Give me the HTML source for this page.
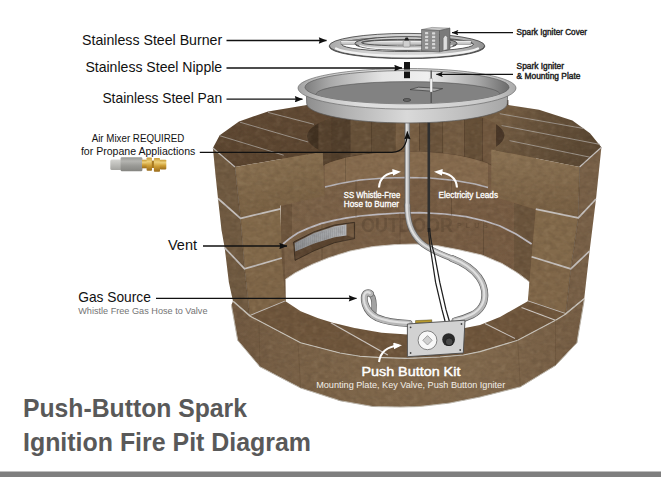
<!DOCTYPE html>
<html>
<head>
<meta charset="utf-8">
<title>Push-Button Spark Ignition Fire Pit Diagram</title>
<style>
html,body{margin:0;padding:0;background:#fff;}
body{width:661px;height:477px;overflow:hidden;position:relative;font-family:"Liberation Sans",sans-serif;}
svg{position:absolute;left:0;top:0;display:block;}
text{font-family:"Liberation Sans",sans-serif;}
</style>
</head>
<body>
<svg width="661" height="477" viewBox="0 0 661 477">
<defs>
  <marker id="ah" viewBox="0 0 10 8" refX="9.6" refY="4" markerWidth="9.5" markerHeight="6.4" orient="auto" markerUnits="userSpaceOnUse"><path d="M0,0 L10,4 L0,8 L1,4 Z" fill="#111"/></marker>
  <marker id="ahs" viewBox="0 0 10 8" refX="9.5" refY="4" markerWidth="7" markerHeight="5.4" orient="auto" markerUnits="userSpaceOnUse"><path d="M0,0 L10,4 L0,8 L2,4 Z" fill="#111"/></marker>
  <marker id="ahw" viewBox="0 0 10 8" refX="6.5" refY="4" markerWidth="8.6" markerHeight="6.8" orient="auto" markerUnits="userSpaceOnUse"><path d="M0,0 L10,4 L0,8 Z" fill="#fff"/></marker>
  <linearGradient id="gTop" x1="0" y1="0" x2="0" y2="1"><stop offset="0" stop-color="#614a34"/><stop offset="1" stop-color="#5a442f"/></linearGradient>
  <linearGradient id="gTopR" x1="0" y1="0" x2="1" y2="0.3"><stop offset="0" stop-color="#775f44"/><stop offset="0.25" stop-color="#745d43"/><stop offset="0.55" stop-color="#67523b"/><stop offset="1" stop-color="#5b4833"/></linearGradient>
  <linearGradient id="gFaceL" x1="0" y1="0" x2="0.3" y2="1"><stop offset="0" stop-color="#8d7454"/><stop offset="1" stop-color="#775f42"/></linearGradient>
  <linearGradient id="gFaceR" x1="0" y1="0" x2="0" y2="1"><stop offset="0" stop-color="#8c7354"/><stop offset="1" stop-color="#765e42"/></linearGradient>
  <linearGradient id="gFront" x1="0" y1="0" x2="1" y2="0"><stop offset="0" stop-color="#705840"/><stop offset="0.15" stop-color="#786046"/><stop offset="0.4" stop-color="#7f674b"/><stop offset="0.7" stop-color="#81694d"/><stop offset="1" stop-color="#755d44"/></linearGradient>
  <linearGradient id="gBack" x1="0" y1="0" x2="1" y2="0"><stop offset="0" stop-color="#7b6248"/><stop offset="0.5" stop-color="#785e45"/><stop offset="1" stop-color="#765b42"/></linearGradient>
  <linearGradient id="gPanWall" x1="0" y1="0" x2="1" y2="0"><stop offset="0" stop-color="#8e8e8e"/><stop offset="0.2" stop-color="#b2b2b2"/><stop offset="0.5" stop-color="#d9d9d9"/><stop offset="0.8" stop-color="#bdbdbd"/><stop offset="1" stop-color="#a6a6a6"/></linearGradient>
  <linearGradient id="gPanIn" x1="0" y1="0" x2="1" y2="0"><stop offset="0" stop-color="#7e7e7e"/><stop offset="0.12" stop-color="#a8a8a8"/><stop offset="0.38" stop-color="#e4e4e4"/><stop offset="0.6" stop-color="#f0f0f0"/><stop offset="0.85" stop-color="#a6a6a6"/><stop offset="1" stop-color="#6c6c6c"/></linearGradient>
  <linearGradient id="gTube" x1="0" y1="0" x2="1" y2="0"><stop offset="0" stop-color="#9b9b9b"/><stop offset="0.5" stop-color="#e9e9e9"/><stop offset="1" stop-color="#a0a0a0"/></linearGradient>
  <filter id="stone" x="200" y="90" width="420" height="330" filterUnits="userSpaceOnUse" color-interpolation-filters="sRGB">
    <feTurbulence type="fractalNoise" baseFrequency="0.16 0.22" numOctaves="2" seed="7" result="n"/>
    <feColorMatrix in="n" type="matrix" values="0 0 0 0 0.12  0 0 0 0 0.08  0 0 0 0 0.04  0.26 0 0 0 -0.105" result="dk"/>
    <feComposite in="dk" in2="SourceAlpha" operator="in" result="dkc"/>
    <feColorMatrix in="n" type="matrix" values="0 0 0 0 0.85  0 0 0 0 0.78  0 0 0 0 0.66  0 -0.22 0 0 0.12" result="lt"/>
    <feComposite in="lt" in2="SourceAlpha" operator="in" result="ltc"/>
    <feMerge><feMergeNode in="SourceGraphic"/><feMergeNode in="dkc"/><feMergeNode in="ltc"/></feMerge>
  </filter>
  <linearGradient id="gLip" x1="0" y1="0" x2="1" y2="0"><stop offset="0" stop-color="#a2a2a2"/><stop offset="0.1" stop-color="#c4c4c4"/><stop offset="0.3" stop-color="#dfdfdf"/><stop offset="0.6" stop-color="#dadada"/><stop offset="0.9" stop-color="#c6c6c6"/><stop offset="1" stop-color="#aaaaaa"/></linearGradient>
  <linearGradient id="gRing" x1="0" y1="0" x2="1" y2="0"><stop offset="0" stop-color="#a9a9a9"/><stop offset="0.25" stop-color="#d2d2d2"/><stop offset="0.6" stop-color="#d6d6d6"/><stop offset="0.85" stop-color="#b4b4b4"/><stop offset="1" stop-color="#8f8f8f"/></linearGradient>
  <linearGradient id="gGrille" x1="0" y1="0" x2="1" y2="0"><stop offset="0" stop-color="#8f9194"/><stop offset="0.6" stop-color="#a2a4a7"/><stop offset="1" stop-color="#b4b5b8"/></linearGradient>
  <linearGradient id="gSteelL" x1="0" y1="0" x2="0" y2="1"><stop offset="0" stop-color="#d6d6d2"/><stop offset="0.3" stop-color="#c6c6c2"/><stop offset="1" stop-color="#a4a4a0"/></linearGradient>
  <linearGradient id="gSteelD" x1="0" y1="0" x2="0" y2="1"><stop offset="0" stop-color="#9a9a96"/><stop offset="0.28" stop-color="#b4b4b0"/><stop offset="0.6" stop-color="#9a9a96"/><stop offset="1" stop-color="#858581"/></linearGradient>
  <linearGradient id="gBrass" x1="0" y1="0" x2="0" y2="1"><stop offset="0" stop-color="#c79a35"/><stop offset="0.3" stop-color="#edd07a"/><stop offset="0.6" stop-color="#cf9f36"/><stop offset="1" stop-color="#9a6c1c"/></linearGradient>
  <clipPath id="cpPanIn"><ellipse cx="407" cy="87.2" rx="102" ry="16.6"/></clipPath>
</defs>
<rect x="0" y="0" width="661" height="477" fill="#ffffff"/>
<g id="backwall" filter="url(#stone)">
<polygon points="285.5,301.3 285.3,279.5 295.2,272.8 312.0,264.4 328.7,257.7 350.0,251.0 372.7,246.6 395.0,244.6 415.5,244.0 438.0,245.8 460.0,250.0 481.8,255.0 502.0,263.5 518.7,273.6 529.6,282.0 529.6,303.0 536.0,304.5 536.0,130.0 508.0,130.0 508.0,100.0 307.0,100.0 307.0,130.0 281.0,130.0 281.0,301.3" fill="url(#gBack)"/>
<polygon points="307.0,100.0 309.9,100.0 309.9,174.3 307.0,181.5" fill="rgb(68,52,36)"/>
<line x1="309.9" y1="100" x2="309.9" y2="174.3" stroke="#3a2a1c" stroke-width="0.8" opacity="0.8"/>
<polygon points="309.9,100.0 318.5,100.0 318.5,167.6 309.9,174.3" fill="rgb(65,49,33)"/>
<line x1="318.5" y1="100" x2="318.5" y2="167.6" stroke="#3a2a1c" stroke-width="0.8" opacity="0.8"/>
<polygon points="318.5,100.0 332.3,100.0 332.3,161.6 318.5,167.6" fill="rgb(86,66,46)"/>
<line x1="332.3" y1="100" x2="332.3" y2="161.6" stroke="#3a2a1c" stroke-width="0.8" opacity="0.8"/>
<polygon points="332.3,100.0 350.4,100.0 350.4,156.8 332.3,161.6" fill="rgb(82,63,44)"/>
<line x1="350.4" y1="100" x2="350.4" y2="156.8" stroke="#3a2a1c" stroke-width="0.8" opacity="0.8"/>
<polygon points="350.4,100.0 371.9,100.0 371.9,153.4 350.4,156.8" fill="rgb(103,81,57)"/>
<line x1="371.9" y1="100" x2="371.9" y2="153.4" stroke="#3a2a1c" stroke-width="0.8" opacity="0.8"/>
<polygon points="371.9,100.0 395.4,100.0 395.4,151.7 371.9,153.4" fill="rgb(99,78,55)"/>
<line x1="395.4" y1="100" x2="395.4" y2="151.7" stroke="#3a2a1c" stroke-width="0.8" opacity="0.8"/>
<polygon points="395.4,100.0 419.6,100.0 419.6,151.7 395.4,151.7" fill="rgb(120,95,68)"/>
<line x1="419.6" y1="100" x2="419.6" y2="151.7" stroke="#3a2a1c" stroke-width="0.8" opacity="0.8"/>
<polygon points="419.6,100.0 443.1,100.0 443.1,153.4 419.6,151.7" fill="rgb(106,83,59)"/>
<line x1="443.1" y1="100" x2="443.1" y2="153.4" stroke="#3a2a1c" stroke-width="0.8" opacity="0.8"/>
<polygon points="443.1,100.0 464.6,100.0 464.6,156.8 443.1,153.4" fill="rgb(116,92,66)"/>
<line x1="464.6" y1="100" x2="464.6" y2="156.8" stroke="#3a2a1c" stroke-width="0.8" opacity="0.8"/>
<polygon points="464.6,100.0 482.7,100.0 482.7,161.6 464.6,156.8" fill="rgb(102,80,56)"/>
<line x1="482.7" y1="100" x2="482.7" y2="161.6" stroke="#3a2a1c" stroke-width="0.8" opacity="0.8"/>
<polygon points="482.7,100.0 496.5,100.0 496.5,167.6 482.7,161.6" fill="rgb(113,88,63)"/>
<line x1="496.5" y1="100" x2="496.5" y2="167.6" stroke="#3a2a1c" stroke-width="0.8" opacity="0.8"/>
<polygon points="496.5,100.0 505.1,100.0 505.1,174.3 496.5,167.6" fill="rgb(72,54,39)"/>
<line x1="505.1" y1="100" x2="505.1" y2="174.3" stroke="#3a2a1c" stroke-width="0.8" opacity="0.8"/>
<polygon points="505.1,100.0 508.0,100.0 508.0,181.5 505.1,174.3" fill="rgb(72,54,39)"/>
<line x1="508.0" y1="100" x2="508.0" y2="181.5" stroke="#3a2a1c" stroke-width="0.8" opacity="0.8"/>
<polyline points="307.0,181.5 312.0,172.1 317.1,168.4 322.1,165.7 327.1,163.5 332.1,161.7 337.1,160.1 342.2,158.7 347.2,157.5 352.2,156.4 357.2,155.5 362.3,154.7 367.3,154.0 372.3,153.4 377.4,152.9 382.4,152.5 387.4,152.1 392.4,151.8 397.4,151.7 402.5,151.5 407.5,151.5 412.5,151.5 417.6,151.7 422.6,151.8 427.6,152.1 432.6,152.5 437.6,152.9 442.7,153.4 447.7,154.0 452.7,154.7 457.8,155.5 462.8,156.4 467.8,157.5 472.8,158.7 477.9,160.1 482.9,161.7 487.9,163.5 492.9,165.7 498.0,168.4 503.0,172.1 508.0,181.5" fill="none" stroke="#4d3a28" stroke-width="0.8" opacity="0.7"/>
<polygon points="325.0,164.4 330.4,162.2 335.9,160.5 341.3,158.9 346.7,157.6 352.2,156.5 357.6,155.5 363.0,154.6 368.5,153.9 373.9,153.2 379.3,152.7 384.8,152.3 390.2,151.9 395.6,151.7 401.1,151.6 406.5,151.5 411.9,151.5 417.4,151.6 422.8,151.8 428.2,152.1 433.7,152.5 439.1,153.0 444.5,153.6 450.0,154.3 455.4,155.1 460.8,156.1 466.3,157.2 471.7,158.4 477.1,159.9 482.6,161.6 488.0,163.5 488.0,187.5 475.0,184.0 455.0,180.5 430.0,178.0 407.0,177.5 385.0,178.0 360.0,180.0 340.0,183.5 325.0,187.0" fill="#866b4e"/>
<line x1="345.3" y1="157.9" x2="345.3" y2="182.5" stroke="#4d3a28" stroke-width="0.6" opacity="0.7"/>
<polygon points="514.0,203.0 535.8,209.5 531.6,256.7 529.6,282.0 514.0,270.5" fill="#6b543c"/>
<polygon points="281.0,206.0 292.0,203.5 292.0,236.5 284.0,243.5 285.3,279.5 285.5,301.3 281.0,301.3" fill="#6c543c"/>
<polyline points="325.0,187.0 340.0,183.5 360.0,180.0 385.0,178.0 407.0,177.5 430.0,178.0 455.0,180.5 475.0,184.0 488.0,187.5" fill="none" stroke="#b9b6bb" stroke-width="1.6"/>
<polyline points="283.0,244.0 290.0,238.2 297.7,233.1 308.0,228.4 320.8,223.6 333.0,220.6 345.4,218.2 360.0,216.0 378.0,214.3 400.0,213.0 420.0,212.6 445.0,214.0 466.0,216.6 485.0,221.0 500.0,226.0 516.0,234.0 531.6,244.0" fill="none" stroke="#bdbac0" stroke-width="1.7"/>
<line x1="451.5" y1="180.5" x2="451.5" y2="215.5" stroke="#3f2f20" stroke-width="0.7" opacity="0.45"/>
<line x1="483.5" y1="221.5" x2="483.5" y2="256" stroke="#3f2f20" stroke-width="0.7" opacity="0.45"/>
<line x1="356" y1="180.5" x2="356" y2="217" stroke="#3f2f20" stroke-width="0.7" opacity="0.45"/>
<line x1="322" y1="224" x2="322" y2="260" stroke="#3f2f20" stroke-width="0.7" opacity="0.45"/>
<line x1="400" y1="213.5" x2="400" y2="244.5" stroke="#3f2f20" stroke-width="0.7" opacity="0.45"/>
<polyline points="285.3,279.5 295.2,272.8 312.0,264.4 328.7,257.7 350.0,251.0 372.7,246.6 395.0,244.6 415.5,244.0 438.0,245.8 460.0,250.0 481.8,255.0 502.0,263.5 518.7,273.6 529.6,282.0 529.6,303.0" fill="none" stroke="#cfcac2" stroke-width="0.9"/>
<polygon points="293.6,242.0 314.0,231.8 334.5,225.0 354.6,222.3 354.6,238.6 334.5,242.7 314.0,250.8 295.0,260.4" fill="#5a4430" stroke="#2e241a" stroke-width="0.7"/>
<polygon points="294.6,243.0 314.0,233.0 334.5,226.2 346.7,224.3 346.7,235.6 334.5,237.2 314.0,243.4 295.2,251.5" fill="url(#gGrille)"/>
<polygon points="346.7,224.3 353.8,223.3 353.8,237.4 346.7,235.6" fill="#735a41"/>
<line x1="296.6" y1="242.1" x2="296.6" y2="251.1" stroke="#7d7f82" stroke-width="0.5" opacity="0.6"/>
<line x1="298.6" y1="241.1" x2="298.6" y2="250.1" stroke="#7d7f82" stroke-width="0.5" opacity="0.6"/>
<line x1="300.6" y1="240.2" x2="300.6" y2="249.2" stroke="#7d7f82" stroke-width="0.5" opacity="0.6"/>
<line x1="302.6" y1="239.3" x2="302.6" y2="248.3" stroke="#7d7f82" stroke-width="0.5" opacity="0.6"/>
<line x1="304.6" y1="238.5" x2="304.6" y2="247.5" stroke="#7d7f82" stroke-width="0.5" opacity="0.6"/>
<line x1="306.6" y1="237.7" x2="306.6" y2="246.7" stroke="#7d7f82" stroke-width="0.5" opacity="0.6"/>
<line x1="308.6" y1="237.0" x2="308.6" y2="246.0" stroke="#7d7f82" stroke-width="0.5" opacity="0.6"/>
<line x1="310.6" y1="236.2" x2="310.6" y2="245.2" stroke="#7d7f82" stroke-width="0.5" opacity="0.6"/>
<line x1="312.6" y1="235.5" x2="312.6" y2="244.5" stroke="#7d7f82" stroke-width="0.5" opacity="0.6"/>
<line x1="314.6" y1="234.8" x2="314.6" y2="243.8" stroke="#7d7f82" stroke-width="0.5" opacity="0.6"/>
<line x1="316.6" y1="234.1" x2="316.6" y2="243.1" stroke="#7d7f82" stroke-width="0.5" opacity="0.6"/>
<line x1="318.6" y1="233.4" x2="318.6" y2="242.4" stroke="#7d7f82" stroke-width="0.5" opacity="0.6"/>
<line x1="320.6" y1="232.8" x2="320.6" y2="241.8" stroke="#7d7f82" stroke-width="0.5" opacity="0.6"/>
<line x1="322.7" y1="232.1" x2="322.7" y2="241.1" stroke="#7d7f82" stroke-width="0.5" opacity="0.6"/>
<line x1="324.7" y1="231.5" x2="324.7" y2="240.5" stroke="#7d7f82" stroke-width="0.5" opacity="0.6"/>
<line x1="326.7" y1="230.8" x2="326.7" y2="239.8" stroke="#7d7f82" stroke-width="0.5" opacity="0.6"/>
<line x1="328.7" y1="230.2" x2="328.7" y2="239.2" stroke="#7d7f82" stroke-width="0.5" opacity="0.6"/>
<line x1="330.7" y1="229.6" x2="330.7" y2="238.6" stroke="#7d7f82" stroke-width="0.5" opacity="0.6"/>
<line x1="332.7" y1="228.9" x2="332.7" y2="237.9" stroke="#7d7f82" stroke-width="0.5" opacity="0.6"/>
<line x1="334.7" y1="228.3" x2="334.7" y2="237.3" stroke="#7d7f82" stroke-width="0.5" opacity="0.6"/>
<line x1="336.7" y1="227.7" x2="336.7" y2="236.7" stroke="#7d7f82" stroke-width="0.5" opacity="0.6"/>
<line x1="338.7" y1="227.1" x2="338.7" y2="236.1" stroke="#7d7f82" stroke-width="0.5" opacity="0.6"/>
<line x1="340.7" y1="226.5" x2="340.7" y2="235.5" stroke="#7d7f82" stroke-width="0.5" opacity="0.6"/>
<line x1="342.7" y1="226.0" x2="342.7" y2="235.0" stroke="#7d7f82" stroke-width="0.5" opacity="0.6"/>
<line x1="344.7" y1="225.4" x2="344.7" y2="234.4" stroke="#7d7f82" stroke-width="0.5" opacity="0.6"/>
<text x="361" y="231.5" font-size="21" font-weight="bold" fill="#3a2c1f" opacity="0.22" textLength="92" lengthAdjust="spacingAndGlyphs" transform="translate(0,0)">OUTDOOR</text>
<text x="457" y="228" font-size="7" font-weight="bold" fill="#3a2c1f" opacity="0.22" textLength="31" lengthAdjust="spacing">PLUS</text>
</g>
<g id="topsurf" filter="url(#stone)">
<path d="M304,105.5 L268,111.4 L239,121.4 L219.7,135.3 L212.9,148 L235,167 L322.8,151.8 A100.5,28.5 0 0 1 336,116.5 L336,100 Z" fill="url(#gTop)"/>
<path d="M506.5,104.8 L539,109.7 L572.4,120.6 L590,133.3 L601.4,147.3 L579.6,167 L491.3,149.5 A100.5,28.5 0 0 0 479,116.5 L479,100 Z" fill="url(#gTopR)"/>
<line x1="268" y1="112.4" x2="314" y2="124.3" stroke="#a8a09a" stroke-width="0.85"/>
<line x1="240" y1="122.2" x2="308.2" y2="142" stroke="#a8a09a" stroke-width="0.85"/>
<line x1="219.7" y1="135.7" x2="283.7" y2="155.2" stroke="#a8a09a" stroke-width="0.85"/>
<line x1="499.7" y1="113.7" x2="584.2" y2="128.6" stroke="#a8a09a" stroke-width="0.85"/>
<line x1="501.6" y1="125.5" x2="600" y2="144.4" stroke="#a8a09a" stroke-width="0.85"/>
<line x1="509.5" y1="140.6" x2="592" y2="157.6" stroke="#a8a09a" stroke-width="0.85"/>
</g>
<g id="faces" filter="url(#stone)">
<polygon points="212.9,148.0 235.0,167.0 240.5,218.3 244.6,268.8 249.8,316.0 233.0,301.3 228.9,282.4 224.7,247.8 221.5,230.0 218.0,198.5 215.5,175.0" fill="#705a41"/>
<polygon points="235.0,167.0 322.8,151.8 324.3,195.8 280.5,205.6 280.5,208.9 240.5,218.3" fill="url(#gFaceL)"/>
<polygon points="240.5,218.3 280.5,208.9 281.8,258.0 244.6,268.8" fill="#82694a"/>
<polygon points="244.6,268.8 281.8,258.0 285.5,301.3 249.8,316.0" fill="#7f6648"/>
<polygon points="601.4,147.3 579.6,167.0 578.3,217.9 570.8,268.9 565.8,314.0 584.2,298.8 589.6,251.0 596.0,199.0" fill="#786047"/>
<polygon points="491.3,149.5 579.6,167.0 578.3,217.9 535.8,209.2 491.3,196.0" fill="url(#gFaceR)"/>
<polygon points="535.8,209.2 578.3,217.9 570.8,268.9 531.6,256.7" fill="#836a4b"/>
<polygon points="531.6,256.7 570.8,268.9 565.8,314.0 527.8,301.3" fill="#806749"/>
<polyline points="235.0,167.0 240.5,218.3 244.6,268.8 249.8,316.0" fill="none" stroke="#4f3c29" stroke-width="0.7" opacity="0.75"/>
<polyline points="579.6,167.0 578.3,217.9 570.8,268.9 565.8,314.0" fill="none" stroke="#4f3c29" stroke-width="0.7" opacity="0.75"/>
<polyline points="218.0,198.5 240.5,218.3 280.5,208.9" fill="none" stroke="#c6c1be" stroke-width="1.7" stroke-linejoin="round"/>
<polyline points="224.7,247.8 244.6,268.8 281.8,258.0" fill="none" stroke="#c6c1be" stroke-width="1.7" stroke-linejoin="round"/>
<polyline points="233.0,301.3 249.8,316.0 285.5,301.3" fill="none" stroke="#c6c1be" stroke-width="1.7" stroke-linejoin="round"/>
<polyline points="535.8,209.2 578.3,217.9 596.0,199.0" fill="none" stroke="#c6c1be" stroke-width="1.7" stroke-linejoin="round"/>
<polyline points="531.6,256.7 570.8,268.9 589.6,251.0" fill="none" stroke="#c6c1be" stroke-width="1.7" stroke-linejoin="round"/>
<polyline points="527.8,301.3 565.8,314.0 584.2,298.8" fill="none" stroke="#c6c1be" stroke-width="1.7" stroke-linejoin="round"/>
<polyline points="212.9,148.0 235.0,167.0" fill="none" stroke="#c6c1be" stroke-width="1.2"/>
<polyline points="601.4,147.3 579.6,167.0" fill="none" stroke="#c6c1be" stroke-width="1.2"/>
</g>
<g id="front" filter="url(#stone)">
<polygon points="233.0,301.3 249.8,316.0 300.6,342.8 340.0,353.0 360.0,356.2 377.7,357.4 407.4,358.4 440.0,357.0 463.3,355.0 480.0,351.6 517.7,340.3 555.5,320.2 565.8,314.0 584.2,298.8 584.2,300.0 576.9,342.8 555.5,365.5 520.3,386.9 480.0,397.0 450.0,403.0 420.0,406.5 400.0,407.0 372.7,406.5 340.0,400.7 300.6,388.0 260.0,366.8 237.7,340.3 231.4,305.0" fill="url(#gFront)"/>
<polygon points="285.5,301.3 300.6,311.3 318.2,318.2 332.7,322.7 354.5,328.1 381.7,332.7 407.4,334.5 440.0,332.5 465.0,328.0 480.0,325.0 500.0,317.0 527.8,301.3 565.8,314.0 555.5,320.2 517.7,340.3 480.0,351.6 463.3,355.0 440.0,357.0 407.4,358.4 377.7,357.4 360.0,356.2 340.0,353.0 300.6,342.8 249.8,316.0" fill="#6f563c"/>
<line x1="330.8" y1="322.7" x2="387.8" y2="355" stroke="#cfc9c4" stroke-width="1.1"/>
<line x1="485" y1="323.5" x2="515" y2="338.5" stroke="#cfc9c4" stroke-width="1.1"/>
<line x1="521.5" y1="307.6" x2="555.5" y2="320.2" stroke="#cfc9c4" stroke-width="1.1"/>
<polyline points="233.0,301.3 249.8,316.0 300.6,342.8 340.0,353.0 360.0,356.2 377.7,357.4 407.4,358.4 440.0,357.0 463.3,355.0 480.0,351.6 517.7,340.3 555.5,320.2 565.8,314.0 584.2,298.8" fill="none" stroke="#c9c4bb" stroke-width="1.1"/>
<polyline points="231.4,305.0 237.7,340.3 260.0,366.8 300.6,388.0 340.0,400.7 372.7,406.5 400.0,407.0 420.0,406.5 450.0,403.0 480.0,397.0 520.3,386.9 555.5,365.5 576.9,342.8 584.2,300.0" fill="none" stroke="#bdb7ad" stroke-width="1"/>
<line x1="259" y1="325" x2="260" y2="366.8" stroke="#5f4a33" stroke-width="0.6" opacity="0.6"/>
<line x1="298" y1="343" x2="300.6" y2="388" stroke="#5f4a33" stroke-width="0.6" opacity="0.6"/>
<line x1="517.7" y1="340.3" x2="520.3" y2="386.9" stroke="#5f4a33" stroke-width="0.6" opacity="0.6"/>
<line x1="555.5" y1="320.2" x2="555.5" y2="365.5" stroke="#5f4a33" stroke-width="0.6" opacity="0.6"/>
</g>
<g id="hose">
<path d="M407.3,118 L407.3,207" fill="none" stroke="#5e5e5e" stroke-width="5.4" stroke-linecap="butt"/>
<path d="M407.3,205 C407.3,222 411,233 421,242.6 C428,249 440,254 454.5,259.4" fill="none" stroke="#5e5e5e" stroke-width="6.0" stroke-linecap="round"/>
<path d="M452,258.5 C464,263 473,269.5 478.6,276.8 C483,283 485,290 484.8,296 C484.6,300 484,303 482,306 C479,311 476,313 472,315 C468,317 463,319 455,320.8" fill="none" stroke="#5e5e5e" stroke-width="7.0" stroke-linecap="round"/>
<path d="M407.3,118 L407.3,207" fill="none" stroke="#b6b6b6" stroke-width="4.1000000000000005" stroke-linecap="butt"/>
<path d="M407.3,205 C407.3,222 411,233 421,242.6 C428,249 440,254 454.5,259.4" fill="none" stroke="#b6b6b6" stroke-width="4.7" stroke-linecap="round"/>
<path d="M452,258.5 C464,263 473,269.5 478.6,276.8 C483,283 485,290 484.8,296 C484.6,300 484,303 482,306 C479,311 476,313 472,315 C468,317 463,319 455,320.8" fill="none" stroke="#b6b6b6" stroke-width="5.7" stroke-linecap="round"/>
<path d="M407.3,118 L407.3,207" fill="none" stroke="#e0e0e0" stroke-width="1.6" stroke-linecap="butt" transform="translate(-0.5,-0.5)"/>
<path d="M407.3,205 C407.3,222 411,233 421,242.6 C428,249 440,254 454.5,259.4" fill="none" stroke="#e0e0e0" stroke-width="1.8" stroke-linecap="round" transform="translate(-0.5,-0.5)"/>
<path d="M452,258.5 C464,263 473,269.5 478.6,276.8 C483,283 485,290 484.8,296 C484.6,300 484,303 482,306 C479,311 476,313 472,315 C468,317 463,319 455,320.8" fill="none" stroke="#e0e0e0" stroke-width="2.1" stroke-linecap="round" transform="translate(-0.5,-0.5)"/>
<path d="M371.4,295 C374.4,298 374.4,305 373.8,312" fill="none" stroke="#5c5c5c" stroke-width="5.4" stroke-linecap="round"/>
<path d="M371.4,295 C374.4,298 374.4,305 373.8,312" fill="none" stroke="#a2a2a2" stroke-width="4.2" stroke-linecap="round"/>
<path d="M409,323.4 C396,323 385,321.2 377.2,317.8 C371,314.8 367,309.5 365.3,304.5 C364,300 363.6,296 365.6,293.8 C367.2,292.2 369.3,292.4 370.4,293.6" fill="none" stroke="#5e5e5e" stroke-width="7" stroke-linecap="round"/>
<path d="M409,323.4 C396,323 385,321.2 377.2,317.8 C371,314.8 367,309.5 365.3,304.5 C364,300 363.6,296 365.6,293.8 C367.2,292.2 369.3,292.4 370.4,293.6" fill="none" stroke="#b6b6b6" stroke-width="5.7" stroke-linecap="round"/>
<path d="M409,323.4 C396,323 385,321.2 377.2,317.8 C371,314.8 367,309.5 365.3,304.5 C364,300 363.6,296 365.6,293.8 C367.2,292.2 369.3,292.4 370.4,293.6" fill="none" stroke="#e0e0e0" stroke-width="2.1" stroke-linecap="round" transform="translate(-0.5,-0.5)"/>
<path d="M428.8,118 L428.8,232" fill="none" stroke="#2f2f2f" stroke-width="2.6"/>
<path d="M428.4,228 C429,240 430.5,250 431.4,255 L435.6,282.4 L442,309.7 L445,321" fill="none" stroke="#1f1f1f" stroke-width="1.25"/>
<path d="M429.6,228 C430.5,240 433,250 434.6,255 L439.8,282.4 L446,309.7 L449.3,321" fill="none" stroke="#1f1f1f" stroke-width="1.25"/>
</g>
<g id="pan">
<path d="M306.3,92 L306.7,103.6 A100.3,19.4 0 0 0 507.3,103.6 L507.7,92 Z" fill="url(#gPanWall)" stroke="#5a5a5a" stroke-width="0.7"/>
<path d="M298,88 A109,19.5 0 0 1 516,88 A109,21.1 0 0 1 298,88 Z" fill="url(#gLip)" stroke="#686868" stroke-width="0.7"/>
<ellipse cx="407" cy="87.2" rx="102" ry="16.6" fill="url(#gPanIn)" stroke="#5e5e5e" stroke-width="0.7"/>
<g clip-path="url(#cpPanIn)"><ellipse cx="408" cy="94.4" rx="92" ry="12.8" fill="#828282" stroke="#555" stroke-width="0.6"/>
<polygon points="410.0,89.6 418.5,87.2 442.7,88.6 434.5,91.4" fill="#a7a7a7" stroke="#3c3c3c" stroke-width="0.7"/>
<ellipse cx="406.9" cy="100" rx="3.8" ry="1.4" fill="#6a6a6a" stroke="#333" stroke-width="0.7"/>
</g>
<line x1="431.2" y1="70.5" x2="431.2" y2="103" stroke="#555" stroke-width="1.4"/>
<rect x="430" y="78.5" width="2.4" height="13.5" fill="#f4f4f4" stroke="#777" stroke-width="0.3"/>
<rect x="404" y="62" width="6" height="16.2" fill="#151515"/>
<rect x="404" y="69.3" width="6" height="2.6" fill="#8e8e8e"/>
</g>
<g id="burner">
<path fill-rule="evenodd" d="M329.3,46.6 A77.7,12 0 1 0 484.7,46.6 A77.7,12 0 1 0 329.3,46.6 Z M341.5,44.9 A66,7.2 0 1 1 473.5,44.9 A66,7.2 0 1 1 341.5,44.9 Z" fill="#8e8e8e" stroke="#474747" stroke-width="0.8"/>
<path fill-rule="evenodd" d="M329.3,45.8 A77.7,12.4 0 1 0 484.7,45.8 A77.7,12.4 0 1 0 329.3,45.8 Z M341.5,44.3 A66,7.2 0 1 1 473.5,44.3 A66,7.2 0 1 1 341.5,44.3 Z" fill="url(#gRing)" stroke="#3e3e3e" stroke-width="0.8"/>
<path d="M341.8,44.3 A66,7.2 0 0 1 380,38.2" fill="none" stroke="#8a8a8a" stroke-width="1.6" opacity="0.8"/>
<path d="M336,48.5 A73,9.6 0 0 0 478,48.5" fill="none" stroke="#f2f2f2" stroke-width="2.2" stroke-linecap="round"/>
<rect x="341" y="40.7" width="130" height="3.6" fill="#c6c6c6" stroke="#6a6a6a" stroke-width="0.5"/>
<rect x="341" y="41.1" width="130" height="1.2" fill="#ececec"/>
<path fill-rule="evenodd" d="M355,44 A51,6.5 0 1 0 457,44 A51,6.5 0 1 0 355,44 Z M361.5,43.2 A44.5,3.3 0 1 1 450.5,43.2 A44.5,3.3 0 1 1 361.5,43.2 Z" fill="#8e8e8e" stroke="#474747" stroke-width="0.7"/>
<path fill-rule="evenodd" d="M355,43.3 A51,6.6 0 1 0 457,43.3 A51,6.6 0 1 0 355,43.3 Z M361.5,42.6 A44.5,3.3 0 1 1 450.5,42.6 A44.5,3.3 0 1 1 361.5,42.6 Z" fill="url(#gRing)" stroke="#3e3e3e" stroke-width="0.8"/>
<path d="M360,45.6 A47.5,4.6 0 0 0 452,45.6" fill="none" stroke="#f2f2f2" stroke-width="1.5" stroke-linecap="round"/>
<rect x="403.2" y="40.5" width="6.8" height="6.5" rx="1" fill="#cfcfcf" stroke="#777" stroke-width="0.5"/>
<path d="M404.2,40.5 L405.6,37.6 L407.8,37.6 L409.2,40.5 Z" fill="#222"/>
<polygon points="421.5,29.6 432.0,27.4 450.0,28.2 439.5,30.6" fill="#c9c9c9" stroke="#4e4e4e" stroke-width="0.4"/>
<polygon points="421.5,29.6 439.5,30.6 439.5,52.0 421.5,50.6" fill="#8d8d8d" stroke="#4a4a4a" stroke-width="0.5"/>
<polygon points="439.5,30.6 450.0,28.2 450.0,49.2 439.5,52.0" fill="#7a7a7a" stroke="#4a4a4a" stroke-width="0.5"/>
<path d="M443.2,50.6 L443.2,38.4 Q445.3,33 447.4,37.4 L447.4,49.6 Z" fill="#dedede" stroke="#555" stroke-width="0.4"/>
<rect x="425.0" y="32.1" width="3.2" height="2.2" rx="0.6" fill="#e4e4e4" opacity="0.85"/>
<rect x="425.0" y="35.699999999999996" width="3.2" height="2.2" rx="0.6" fill="#e4e4e4" opacity="0.85"/>
<rect x="425.0" y="39.3" width="3.2" height="2.2" rx="0.6" fill="#e4e4e4" opacity="0.85"/>
<rect x="425.0" y="42.9" width="3.2" height="2.2" rx="0.6" fill="#e4e4e4" opacity="0.85"/>
<rect x="425.0" y="46.5" width="3.2" height="2.2" rx="0.6" fill="#e4e4e4" opacity="0.85"/>
<rect x="432.0" y="32.25" width="3.2" height="2.2" rx="0.6" fill="#e4e4e4" opacity="0.85"/>
<rect x="432.0" y="35.849999999999994" width="3.2" height="2.2" rx="0.6" fill="#e4e4e4" opacity="0.85"/>
<rect x="432.0" y="39.449999999999996" width="3.2" height="2.2" rx="0.6" fill="#e4e4e4" opacity="0.85"/>
<rect x="432.0" y="43.05" width="3.2" height="2.2" rx="0.6" fill="#e4e4e4" opacity="0.85"/>
<rect x="432.0" y="46.65" width="3.2" height="2.2" rx="0.6" fill="#e4e4e4" opacity="0.85"/>
</g>
<g id="kit">
<polygon points="415.5,320.6 431.8,319.8 431.8,322.3 415.5,323.2" fill="#b79a2e" stroke="#3d3413" stroke-width="0.4"/>
<polygon points="407.4,324.0 465.0,320.2 463.3,353.0 407.4,356.7" fill="#d2d2d2" stroke="#4a4a4a" stroke-width="0.9"/>
<circle cx="410.6" cy="327.3" r="0.9" fill="#444"/>
<circle cx="461.5" cy="324" r="0.9" fill="#444"/>
<circle cx="410.6" cy="353" r="0.9" fill="#444"/>
<circle cx="460.2" cy="350" r="0.9" fill="#444"/>
<circle cx="427.5" cy="340.3" r="9.4" fill="#f7f7f7" stroke="#6a6a6a" stroke-width="0.8"/>
<polygon points="427.5,335.6 432.2,340.3 427.5,345.0 422.8,340.3" fill="#cfcfcf" stroke="#777" stroke-width="0.6"/>
<circle cx="448.6" cy="339.6" r="6.4" fill="#2a2a2a"/>
<circle cx="449.2" cy="341.8" r="3.8" fill="#4a4a4a" stroke="#111" stroke-width="0.6"/>
</g>
<g id="labels" fill="#111">
<text x="82" y="44.6" font-size="14.5" textLength="140.2" lengthAdjust="spacingAndGlyphs" >Stainless Steel Burner</text>
<text x="85.4" y="72.2" font-size="14.5" textLength="136.8" lengthAdjust="spacingAndGlyphs" >Stainless Steel Nipple</text>
<text x="102.4" y="102.5" font-size="14.5" textLength="119.8" lengthAdjust="spacingAndGlyphs" >Stainless Steel Pan</text>
<text x="91.7" y="142.3" font-size="10.4" textLength="92.6" lengthAdjust="spacingAndGlyphs" >Air Mixer REQUIRED</text>
<text x="80.9" y="154.5" font-size="10.4" textLength="114.5" lengthAdjust="spacingAndGlyphs" >for Propane Appliactions</text>
<text x="168" y="249.9" font-size="14.5" textLength="29" lengthAdjust="spacingAndGlyphs" >Vent</text>
<text x="78.2" y="302.3" font-size="14.5" textLength="72.6" lengthAdjust="spacingAndGlyphs" >Gas Source</text>
<text x="78.2" y="314" font-size="8.8" textLength="129.3" lengthAdjust="spacingAndGlyphs" fill="#747474" >Whistle Free Gas Hose to Valve</text>
<text x="516.6" y="34.8" font-size="8.5" textLength="70.4" lengthAdjust="spacingAndGlyphs" fill="#222" stroke="#222" stroke-width="0.42">Spark Igniter Cover</text>
<text x="516.6" y="69" font-size="8.5" textLength="47.4" lengthAdjust="spacingAndGlyphs" fill="#222" stroke="#222" stroke-width="0.42">Spark Igniter</text>
<text x="516.6" y="78.5" font-size="8.5" textLength="63.8" lengthAdjust="spacingAndGlyphs" fill="#222" stroke="#222" stroke-width="0.42">&amp; Mounting Plate</text>
<text x="343.8" y="197.8" font-size="8.2" textLength="56.4" lengthAdjust="spacingAndGlyphs" fill="#fff" stroke="#fff" stroke-width="0.3">SS Whistle-Free</text>
<text x="343.8" y="206.9" font-size="8.2" textLength="55.2" lengthAdjust="spacingAndGlyphs" fill="#fff" stroke="#fff" stroke-width="0.3">Hose to Burner</text>
<text x="438.5" y="197.6" font-size="8.2" textLength="59.5" lengthAdjust="spacingAndGlyphs" fill="#fff" stroke="#fff" stroke-width="0.3">Electricity Leads</text>
<text x="361.4" y="375.6" font-size="13.4" textLength="99" lengthAdjust="spacingAndGlyphs" fill="#fff" stroke="#fff" stroke-width="0.45">Push Button Kit</text>
<text x="316.2" y="387.8" font-size="8.8" textLength="189" lengthAdjust="spacingAndGlyphs" fill="#f3efe8" >Mounting Plate, Key Valve, Push Button Igniter</text>
<text x="23" y="417" font-size="25" textLength="224" lengthAdjust="spacingAndGlyphs" fill="#595959" font-weight="bold" >Push-Button Spark</text>
<text x="23" y="450.6" font-size="25" textLength="288" lengthAdjust="spacingAndGlyphs" fill="#595959" font-weight="bold" >Ignition Fire Pit Diagram</text>
<path d="M226.5,40.5 L326.5,40.5" fill="none" stroke="#111" stroke-width="1.3" marker-end="url(#ah)"/>
<path d="M226.5,68 L402,68" fill="none" stroke="#111" stroke-width="1.3" marker-end="url(#ah)"/>
<path d="M226.5,99.2 L302.5,99.2" fill="none" stroke="#111" stroke-width="1.3" marker-end="url(#ah)"/>
<path d="M199.8,152.3 L392,152.3 Q407.4,152 407.4,131.5" fill="none" stroke="#111" stroke-width="1.2" marker-end="url(#ah)"/>
<path d="M203,246 L287,246" fill="none" stroke="#111" stroke-width="1.3" marker-end="url(#ah)"/>
<path d="M156,298.4 L356.5,298.4" fill="none" stroke="#111" stroke-width="1.3" marker-end="url(#ah)"/>
<path d="M513,32.6 L452,32.6" fill="none" stroke="#111" stroke-width="1.15" marker-end="url(#ahs)"/>
<path d="M513,74.4 L436.4,74.4" fill="none" stroke="#111" stroke-width="1.15" marker-end="url(#ahs)"/>
<path d="M379,187.5 Q380,173 398,172" fill="none" stroke="#fff" stroke-width="2.1" marker-end="url(#ahw)"/>
<path d="M457,187.5 Q456,173 437,172" fill="none" stroke="#fff" stroke-width="2.1" marker-end="url(#ahw)"/>
<path d="M379,362 Q381,347 399,345.5" fill="none" stroke="#fff" stroke-width="2.1" marker-end="url(#ahw)"/>
</g>
<g id="mixer">
<rect x="110.3" y="159.4" width="11.5" height="10.6" rx="1.6" fill="url(#gSteelL)"/>
<rect x="120.6" y="157.3" width="21.8" height="13.9" rx="1.3" fill="url(#gSteelD)"/>
<rect x="142" y="159.7" width="6" height="8.6" fill="url(#gBrass)"/>
<rect x="146.6" y="157.5" width="5.4" height="13.3" rx="0.8" fill="url(#gBrass)"/>
<rect x="151.8" y="160.6" width="2.4" height="7.4" fill="#a87a22"/>
<rect x="153.9" y="157.9" width="6.1" height="13.9" rx="0.8" fill="url(#gBrass)"/>
<rect x="159.8" y="159.7" width="6.5" height="9.7" rx="0.8" fill="url(#gBrass)"/>
</g>
<rect x="0" y="471.5" width="661" height="5.5" fill="#7f7f7f"/>
</svg>
</body>
</html>
